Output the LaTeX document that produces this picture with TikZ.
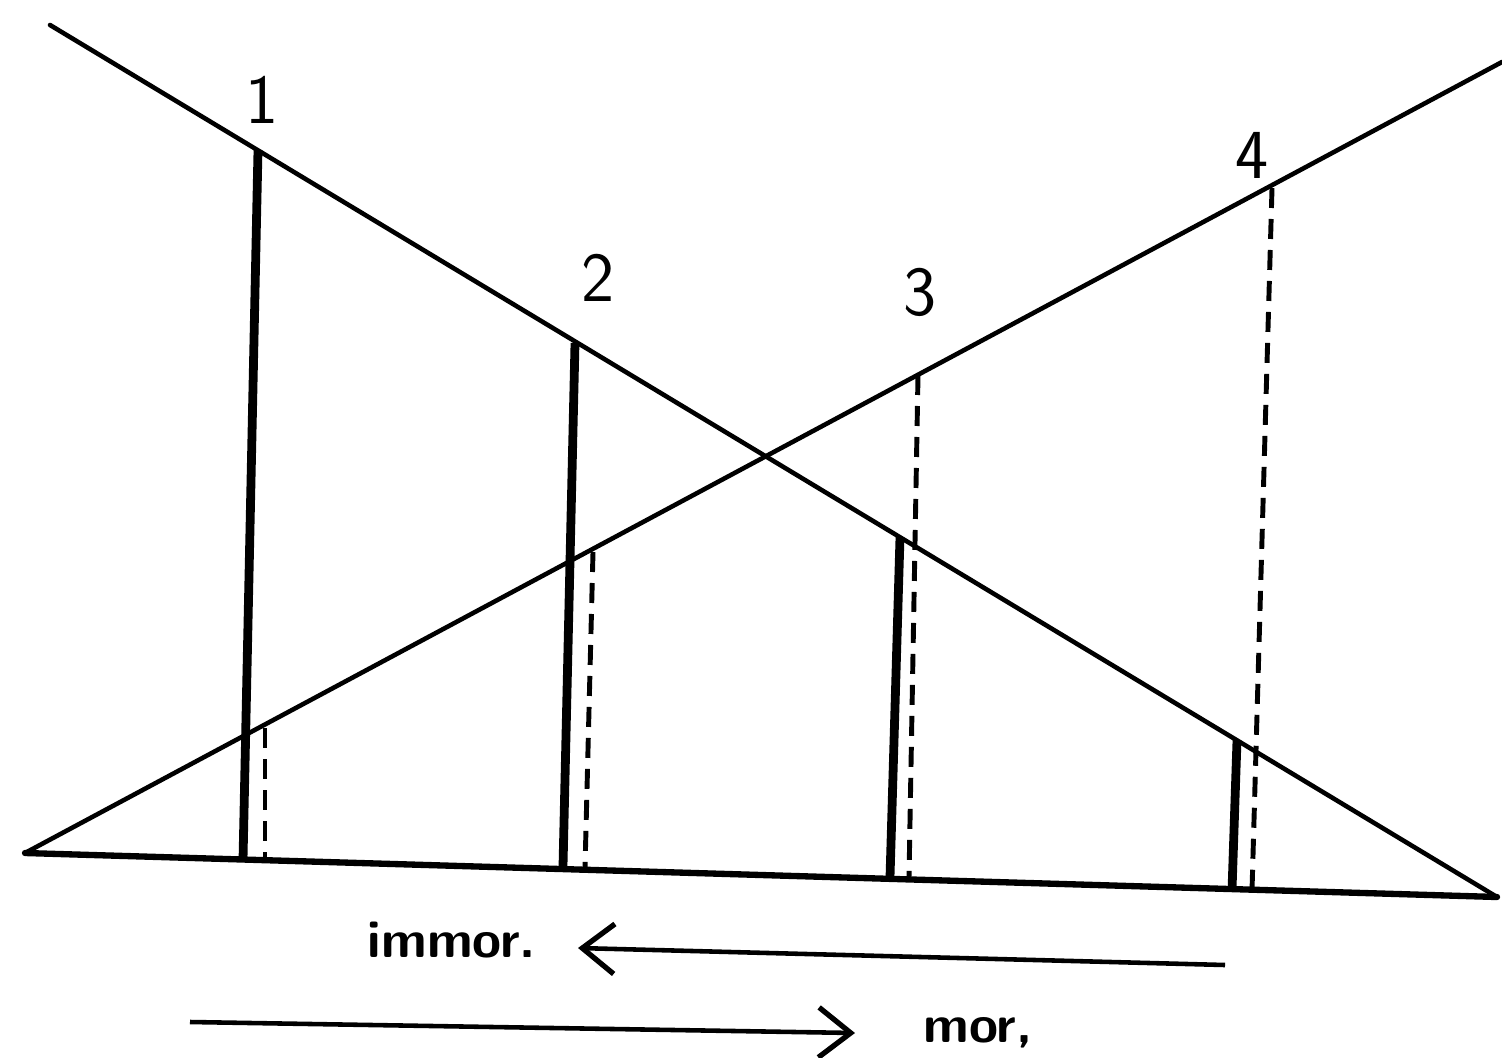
\documentclass[tikz,border=0pt]{standalone}
\usetikzlibrary{arrows.meta}
\begin{document}
\begin{tikzpicture}[x=1cm,y=-1cm,
  thinline/.style={line width=1.3pt, line cap=round},
  baseln/.style={line width=1.8pt, line cap=round},
  thickbar/.style={line width=2.5pt},
  dashbar/.style={line width=1.4pt, dash pattern=on 2mm off 1.1mm},
  numlabel/.style={font=\fontsize{20}{24}\selectfont\sffamily},
  wordlabel/.style={font=\fontsize{15}{18}\selectfont\sffamily\bfseries},
  arr/.style={line width=1.3pt, -{Straight Barb[length=3.2mm,width=5mm,line width=1.5pt]}}]
\useasboundingbox (0,0) rectangle (15.02,10.57);
% main lines
\coordinate (L) at (0.25,8.53);
\coordinate (R) at (14.97,8.97);
\coordinate (DTop) at (0.50,0.25);
\coordinate (ATop) at (15.02,0.62);
\draw[thinline] (DTop) -- (R);
\draw[thinline] (L) -- (ATop);
\draw[baseln] (L) -- (R);
% bar 1
\coordinate (t1) at (2.58,1.50); \coordinate (b1) at (2.43,8.60);
\coordinate (d1t) at (2.65,7.28); \coordinate (d1b) at (2.65,8.60);
\draw[thickbar] (t1) -- (b1);
\draw[dashbar] (d1t) -- (d1b);
% bar 2
\coordinate (t2) at (5.75,3.43); \coordinate (b2) at (5.63,8.66);
\coordinate (d2t) at (5.93,5.52); \coordinate (d2b) at (5.85,8.68);
\draw[thickbar] (t2) -- (b2);
\draw[dashbar] (d2t) -- (d2b);
% bar 3
\coordinate (t3) at (9.00,5.37); \coordinate (b3) at (8.90,8.77);
\coordinate (d3t) at (9.18,3.75); \coordinate (d3b) at (9.09,8.77);
\draw[thickbar] (t3) -- (b3);
\draw[dashbar] (d3t) -- (d3b);
% bar 4
\coordinate (t4) at (12.37,7.40); \coordinate (b4) at (12.32,8.90);
\coordinate (d4t) at (12.72,1.88); \coordinate (d4b) at (12.52,8.90);
\draw[thickbar] (t4) -- (b4);
\draw[dashbar] (d4t) -- (d4b);
% labels
\node[numlabel] (n1) at (2.62,1.00) {1};
\node[numlabel] (n2) at (5.98,2.78) {2};
\node[numlabel] (n3) at (9.20,2.92) {3};
\node[numlabel] (n4) at (12.52,1.55) {4};
% arrows
\coordinate (i1) at (12.25,9.65); \coordinate (i2) at (5.78,9.48);
\draw[arr] (i1) -- (i2);
\node[wordlabel] (immor) at (4.52,9.40) {immor.};
\coordinate (m1) at (1.90,10.22); \coordinate (m2) at (8.55,10.33);
\draw[arr] (m1) -- (m2);
\node[wordlabel] (mor) at (9.78,10.33) {mor,};
\end{tikzpicture}
\end{document}
